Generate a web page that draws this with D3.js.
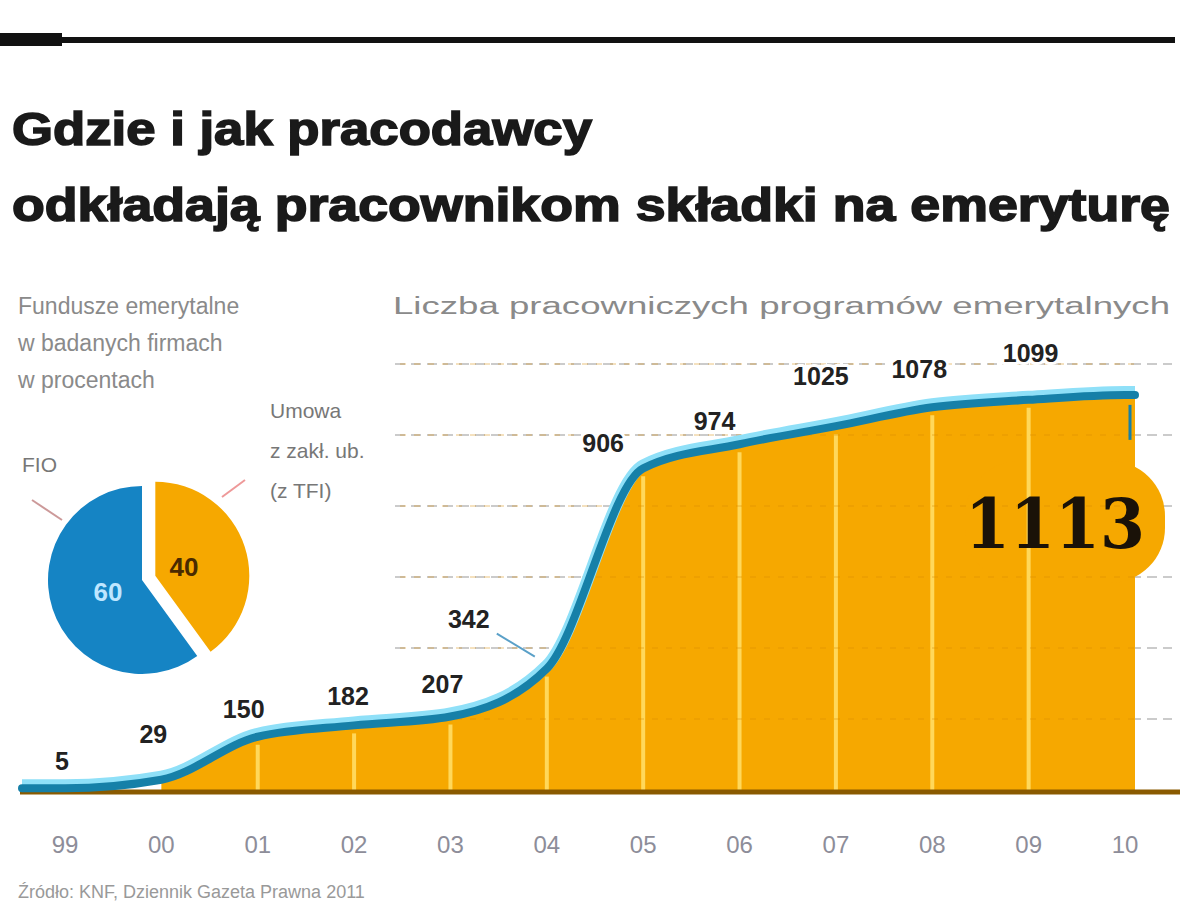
<!DOCTYPE html>
<html><head><meta charset="utf-8">
<script src="https://cdn.jsdelivr.net/npm/d3@7"></script>
<style>body{margin:0;background:#fff}svg{display:block}</style>
</head><body>
<script>
const years = ["99","00","01","02","03","04","05","06","07","08","09","10"];
const programs = [5,29,150,182,207,342,906,974,1025,1078,1099,1113];
const yTicks = [200,400,600,800,1000,1200];
const pieLabels = ["Umowa","FIO"];
const pieValues = [40,60];
const titleLines = ["Gdzie i jak pracodawcy","odkładają pracownikom składki na emeryturę"];
const leftSub = ["Fundusze emerytalne","w badanych firmach","w procentach"];
const rightSub = "Liczba pracowniczych programów emerytalnych";
const source = "Źródło: KNF, Dziennik Gazeta Prawna 2011";

// label layout offsets (dx, dy) relative to the point
const labelOff = [[-3,-18],[-8,-37],[-14,-19],[-6,-20],[-8,-24],[-78,-41],[-40,-16],[-25,-14],[-15,-41],[-13,-29],[2,-38]];

const W=1200,H=923;
const svg=d3.select("body").append("svg").attr("width",W).attr("height",H);

// top rule
svg.append("rect").attr("x",0).attr("y",37).attr("width",1175).attr("height",6).attr("fill","#111");
svg.append("rect").attr("x",0).attr("y",33).attr("width",62).attr("height",13).attr("fill","#111");

// title
const tW=[580,1158];
titleLines.forEach((t,i)=>{
  svg.append("text").attr("x",12).attr("y",145+i*76).text(t)
    .attr("font-family","Liberation Sans, Arial, sans-serif").attr("font-weight","bold")
    .attr("font-size",46).attr("fill","#1a1a1a").attr("stroke","#1a1a1a").attr("stroke-width",1.6)
    .attr("textLength",tW[i]).attr("lengthAdjust","spacingAndGlyphs");
});

// subtitles
leftSub.forEach((t,i)=>{
  svg.append("text").attr("x",18).attr("y",314+i*37).text(t)
   .attr("font-family","Liberation Sans, Arial, sans-serif").attr("font-size",23).attr("fill","#8a8a8a");
});
svg.append("text").attr("x",393).attr("y",314).text(rightSub)
  .attr("font-family","Liberation Sans, Arial, sans-serif").attr("font-size",23).attr("fill","#8a8a8a")
  .attr("textLength",777).attr("lengthAdjust","spacingAndGlyphs");

// scales
const x=d3.scalePoint().domain(years).range([65,1125]);
const y=d3.scaleLinear().domain([0,1200]).range([790,364]);

// gridlines
svg.selectAll("line.grid").data(yTicks).join("line")
 .attr("x1",395).attr("x2",1172).attr("y1",d=>y(d)).attr("y2",d=>y(d))
 .attr("stroke","#bbb").attr("stroke-width",1.5).attr("stroke-dasharray","10,6");

// line data with extensions
const pts=years.map((yr,i)=>({x:x(yr),v:programs[i]}));
const linePts=[{x:x(years[0])-43,v:programs[0]},...pts,{x:x(years[11])+10,v:programs[11]}];
const areaPts=linePts.slice(2);
const area=d3.area().x(d=>d.x).y0(y(0)).y1(d=>y(d.v)).curve(d3.curveMonotoneX);
const line=d3.line().x(d=>d.x).y(d=>y(d.v)).curve(d3.curveMonotoneX);

svg.append("path").datum(areaPts).attr("d",area).attr("fill","#f6a800");
// big label bubble
const bx=x(years[11]);
svg.append("rect").attr("x",bx-160).attr("y",y(programs[11])+66).attr("width",200).attr("height",122)
 .attr("rx",55).attr("fill","#f6a800");

// vertical light lines inside the area
svg.selectAll("line.v").data(pts.slice(2,11)).join("line")
 .attr("x1",d=>d.x).attr("x2",d=>d.x).attr("y1",d=>y(d.v)+8).attr("y2",y(0))
 .attr("stroke","#ffd85a").attr("stroke-width",4);
// faint grid over area
svg.selectAll("line.g2").data(yTicks).join("line")
 .attr("x1",400).attr("x2",1140).attr("y1",d=>y(d)).attr("y2",d=>y(d))
 .attr("stroke","#d88a00").attr("stroke-width",1).attr("stroke-dasharray","6,8").attr("opacity",0.5);

// baseline
svg.append("line").attr("x1",20).attr("x2",1180).attr("y1",y(0)+2).attr("y2",y(0)+2)
 .attr("stroke","#8a5a00").attr("stroke-width",5);

// line with glow
svg.append("path").datum(linePts).attr("d",line).attr("fill","none")
 .attr("stroke","#8fe0f8").attr("stroke-width",12).attr("transform","translate(0,-3)");
svg.append("path").datum(linePts).attr("d",line).attr("fill","none")
 .attr("stroke","#1680a8").attr("stroke-width",8).attr("stroke-linecap","round");

// small pointer at end
svg.append("path").attr("d",`M${bx+5},${y(programs[11])+10} L${bx+5},${y(programs[11])+45}`)
 .attr("stroke","#1680a8").attr("stroke-width",3);

// value labels
const lab=svg.append("g").attr("font-family","Liberation Sans, Arial, sans-serif").attr("font-weight","bold")
 .attr("font-size",25).attr("fill","#222");
pts.slice(0,11).forEach((p,i)=>{
  const t=lab.append("text").attr("x",p.x+labelOff[i][0]).attr("y",y(p.v)+labelOff[i][1])
    .attr("text-anchor","middle").text(p.v);
  t.clone(true).lower().attr("stroke","#fff").attr("stroke-width",6).attr("stroke-linejoin","round");
});
// leader for 342
svg.append("line").attr("x1",x("04")-50).attr("y1",y(342)-35).attr("x2",x("04")-12).attr("y2",y(342)-12)
 .attr("stroke","#5aa0c8").attr("stroke-width",2);

// big label
svg.append("text").attr("x",bx-70).attr("y",y(programs[11])+153).attr("text-anchor","middle")
 .attr("font-family","DejaVu Serif, Liberation Serif, serif").attr("font-weight","bold")
 .attr("font-size",70).attr("fill","#1a1208").attr("textLength",180).attr("lengthAdjust","spacingAndGlyphs")
 .text(programs[11]);

// x axis labels
svg.selectAll("text.xl").data(years).join("text")
 .attr("x",d=>x(d)).attr("y",853).attr("text-anchor","middle").text(d=>d)
 .attr("font-family","Liberation Sans, Arial, sans-serif").attr("font-size",24).attr("fill","#8d8d99");

// source
svg.append("text").attr("x",18).attr("y",898).text(source)
 .attr("font-family","Liberation Sans, Arial, sans-serif").attr("font-size",18).attr("fill","#999");

// pie
const pie=d3.pie().sort(null).value(d=>d)(pieValues);
const arc=d3.arc().innerRadius(0).outerRadius(94);
const cx=142,cy=580;
const colors=["#f6a800","#1584c4"];
const pg=svg.append("g").attr("transform",`translate(${cx},${cy})`);
pie.forEach((s,i)=>{
  const mid=(s.startAngle+s.endAngle)/2;
  const off=i===0?14:0;
  const dx=Math.sin(mid)*off, dy=-Math.cos(mid)*off;
  const sg=pg.append("g").attr("transform",`translate(${dx},${dy})`);
  sg.append("path").attr("d",arc(s)).attr("fill",colors[i]);
  const c=d3.arc().innerRadius(0).outerRadius(i===0?110:130).centroid(s);
  sg.append("text").attr("x",c[0]*0.55).attr("y",c[1]*0.55+10).attr("text-anchor","middle")
    .attr("font-family","Liberation Sans, Arial, sans-serif").attr("font-weight","bold").attr("font-size",26)
    .attr("fill",i===0?"#4a2a00":"#bfe6ff").text(s.data);
});
// pie labels
const pl=svg.append("g").attr("font-family","Liberation Sans, Arial, sans-serif").attr("font-size",21).attr("fill","#777");
pl.append("text").attr("x",22).attr("y",472).text(pieLabels[1]);
pl.append("line").attr("x1",32).attr("y1",500).attr("x2",62).attr("y2",520).attr("stroke","#c99").attr("stroke-width",2);
["Umowa","z zakł. ub.","(z TFI)"].forEach((t,i)=>{
  pl.append("text").attr("x",270).attr("y",418+i*40).text(t);
});
pl.append("line").attr("x1",245).attr("y1",480).attr("x2",222).attr("y2",497).attr("stroke","#e99").attr("stroke-width",2);
</script>
</body></html>
